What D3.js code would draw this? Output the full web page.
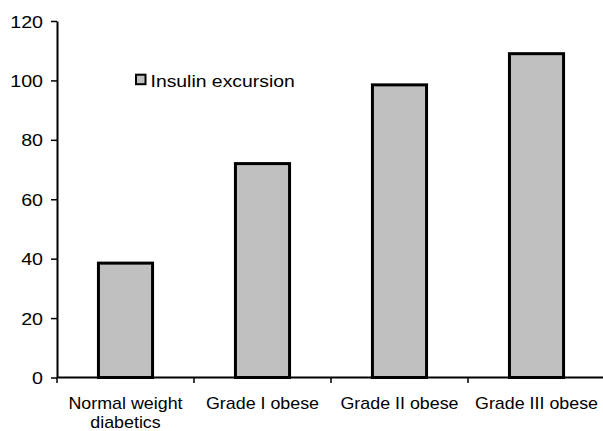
<!DOCTYPE html>
<html>
<head>
<meta charset="utf-8">
<script src="https://cdn.jsdelivr.net/npm/d3@7"></script>
<style>
  html, body { margin: 0; padding: 0; background: #fff; }
  svg { display: block; }
  text { font-family: "Liberation Sans", Arial, Helvetica, sans-serif; fill: #000; }
</style>
</head>
<body>
<svg id="chart" width="603" height="431"></svg>
<script>
const categories = ["Normal weight\ndiabetics", "Grade I obese", "Grade II obese", "Grade III obese"];
const values = [38.5, 72, 98.5, 109];
const yTicks = [0, 20, 40, 60, 80, 100, 120];
const seriesName = "Insulin excursion";

(function () {
const svg = d3.select("#chart");
const mLeft = 57, mRight = 605, mTop = 21, mBottom = 377.5;

const x = d3.scaleBand().domain(categories).range([mLeft, mRight])
  .paddingInner(0.605).paddingOuter(0.3025);
const y = d3.scaleLinear().domain([0, 120]).range([mBottom, mTop]);
const step = x.step();
const outerOff = x.paddingOuter() * step;

// bars
svg.append("g").selectAll("rect").data(values).join("rect")
  .attr("x", (d, i) => x(categories[i]))
  .attr("width", x.bandwidth())
  .attr("y", d => y(d))
  .attr("height", d => y(0) - y(d))
  .attr("fill", "#c0c0c0")
  .attr("stroke", "#000")
  .attr("stroke-width", 3);

// y axis
const yAxis = svg.append("g").attr("transform", `translate(${mLeft},0)`)
  .call(d3.axisLeft(y).tickValues(yTicks).tickSize(6).tickSizeOuter(0));
yAxis.select(".domain").attr("stroke", "#000").attr("stroke-width", 2);
yAxis.selectAll(".tick line").attr("stroke", "#000").attr("stroke-width", 1.5);
yAxis.selectAll(".tick text")
  .attr("x", null).attr("dy", null)
  .attr("text-anchor", "end")
  .attr("transform", "translate(-14,6) scale(1.17,1)")
  .style("font-size", "16.8px")
  .style("font-family", "'Liberation Sans', Arial, sans-serif")
  .attr("fill", "#000");

// x axis
const xAxis = svg.append("g").attr("transform", `translate(0,${mBottom})`);
xAxis.append("line").attr("x1", mLeft).attr("x2", 603).attr("y1", 0).attr("y2", 0)
  .attr("stroke", "#000").attr("stroke-width", 2);
xAxis.selectAll("line.tk").data(categories).join("line").attr("class", "tk")
  .attr("x1", d => x(d) - outerOff).attr("x2", d => x(d) - outerOff)
  .attr("y1", 0).attr("y2", 5.5)
  .attr("stroke", "#000").attr("stroke-width", 1.5);

const lab = svg.append("g").selectAll("text").data(categories).join("text")
  .attr("text-anchor", "middle")
  .attr("transform", d => `translate(${x(d) + x.bandwidth() / 2},409) scale(1.05,1)`)
  .style("font-size", "17px");
lab.each(function (d) {
  const t = d3.select(this);
  d.split("\n").forEach((line, i) => {
    t.append("tspan").attr("x", 0).attr("y", i * 19).text(line);
  });
});

// legend
const lg = svg.append("g");
lg.append("rect").attr("x", 136).attr("y", 74.7).attr("width", 9.5).attr("height", 9.5)
  .attr("fill", "#c0c0c0").attr("stroke", "#000").attr("stroke-width", 2);
lg.append("text").text(seriesName)
  .attr("transform", "translate(150.5,87) scale(1.14,1)")
  .style("font-size", "17px");
})();
</script>
</body>
</html>
